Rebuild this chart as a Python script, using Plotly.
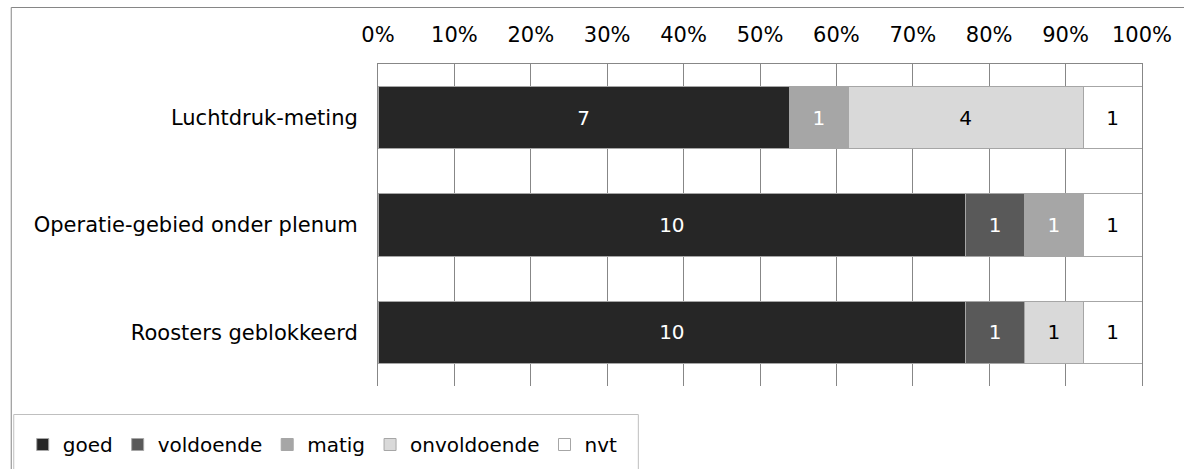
import plotly.graph_objects as go

categories = ["Luchtdruk-meting", "Operatie-gebied onder plenum", "Roosters geblokkeerd"]
series_names = ["goed", "voldoende", "matig", "onvoldoende", "nvt"]
goed = [7, 10, 10]
voldoende = [None, 1, 1]
matig = [1, 1, None]
onvoldoende = [4, None, 1]
nvt = [1, 1, 1]
tick_vals = [0, 0.1, 0.2, 0.3, 0.4, 0.5, 0.6, 0.7, 0.8, 0.9, 1.0]
tick_text = ["0%", "10%", "20%", "30%", "40%", "50%", "60%", "70%", "80%", "90%", "100%"]

series = [goed, voldoende, matig, onvoldoende, nvt]
colors = ["#262626", "#595959", "#a6a6a6", "#d9d9d9", "#ffffff"]
text_colors = ["#ffffff", "#ffffff", "#ffffff", "#000000", "#000000"]

W, H = 1184, 469
L, R, T, B = 377.5, 1142, 64, 386
FONT = "DejaVu Sans"

fig = go.Figure()
for name, vals, col, tcol in zip(series_names, series, colors, text_colors):
    fig.add_trace(go.Bar(
        y=categories, x=vals, name=name, orientation="h",
        marker=dict(color=col, line=dict(color="#a6a6a6", width=1)),
        text=vals, texttemplate="%{text}", textposition="inside",
        insidetextanchor="middle", textangle=0,
        textfont=dict(color=tcol, size=20, family=FONT),
        width=0.58,
    ))

pw, ph = R - L, B - T
def px_x(p):
    return (p - L) / pw
def px_y(p):
    return (B - p) / ph

fig.update_layout(
    width=W, height=H,
    margin=dict(l=L, r=W - R, t=T, b=H - B, pad=0, autoexpand=False),
    barmode="stack", barnorm="fraction",
    paper_bgcolor="white", plot_bgcolor="white",
    font=dict(family=FONT, size=21, color="#000000"),
    xaxis=dict(side="top", range=[0, 1], tickvals=tick_vals, ticktext=tick_text,
               showgrid=True, gridcolor="#878787", gridwidth=1, zeroline=False,
               showline=True, linecolor="#878787", linewidth=1, ticks="",
               ticklabelstandoff=13, tickfont=dict(size=21)),
    yaxis=dict(autorange="reversed", showgrid=False, zeroline=False,
               showline=True, mirror=True, linecolor="#878787", linewidth=1, ticks="",
               ticklabelstandoff=15, tickfont=dict(size=21)),
    showlegend=True,
    legend=dict(orientation="h", x=px_x(22), y=px_y(425), xanchor="left", yanchor="top",
                font=dict(size=20), bgcolor="rgba(0,0,0,0)", borderwidth=0,
                traceorder="normal", itemwidth=30),
    shapes=[
        dict(type="rect", xref="paper", yref="paper",
             x0=px_x(10.5), x1=px_x(1190), y0=px_y(7.5), y1=px_y(480),
             line=dict(color="#868686", width=1), layer="below"),
        dict(type="rect", xref="paper", yref="paper",
             x0=px_x(13), x1=px_x(638), y0=px_y(414.5), y1=px_y(480),
             line=dict(color="#bfbfbf", width=1), fillcolor="white", layer="below"),
    ],
)

fig.write_html("out.html")
